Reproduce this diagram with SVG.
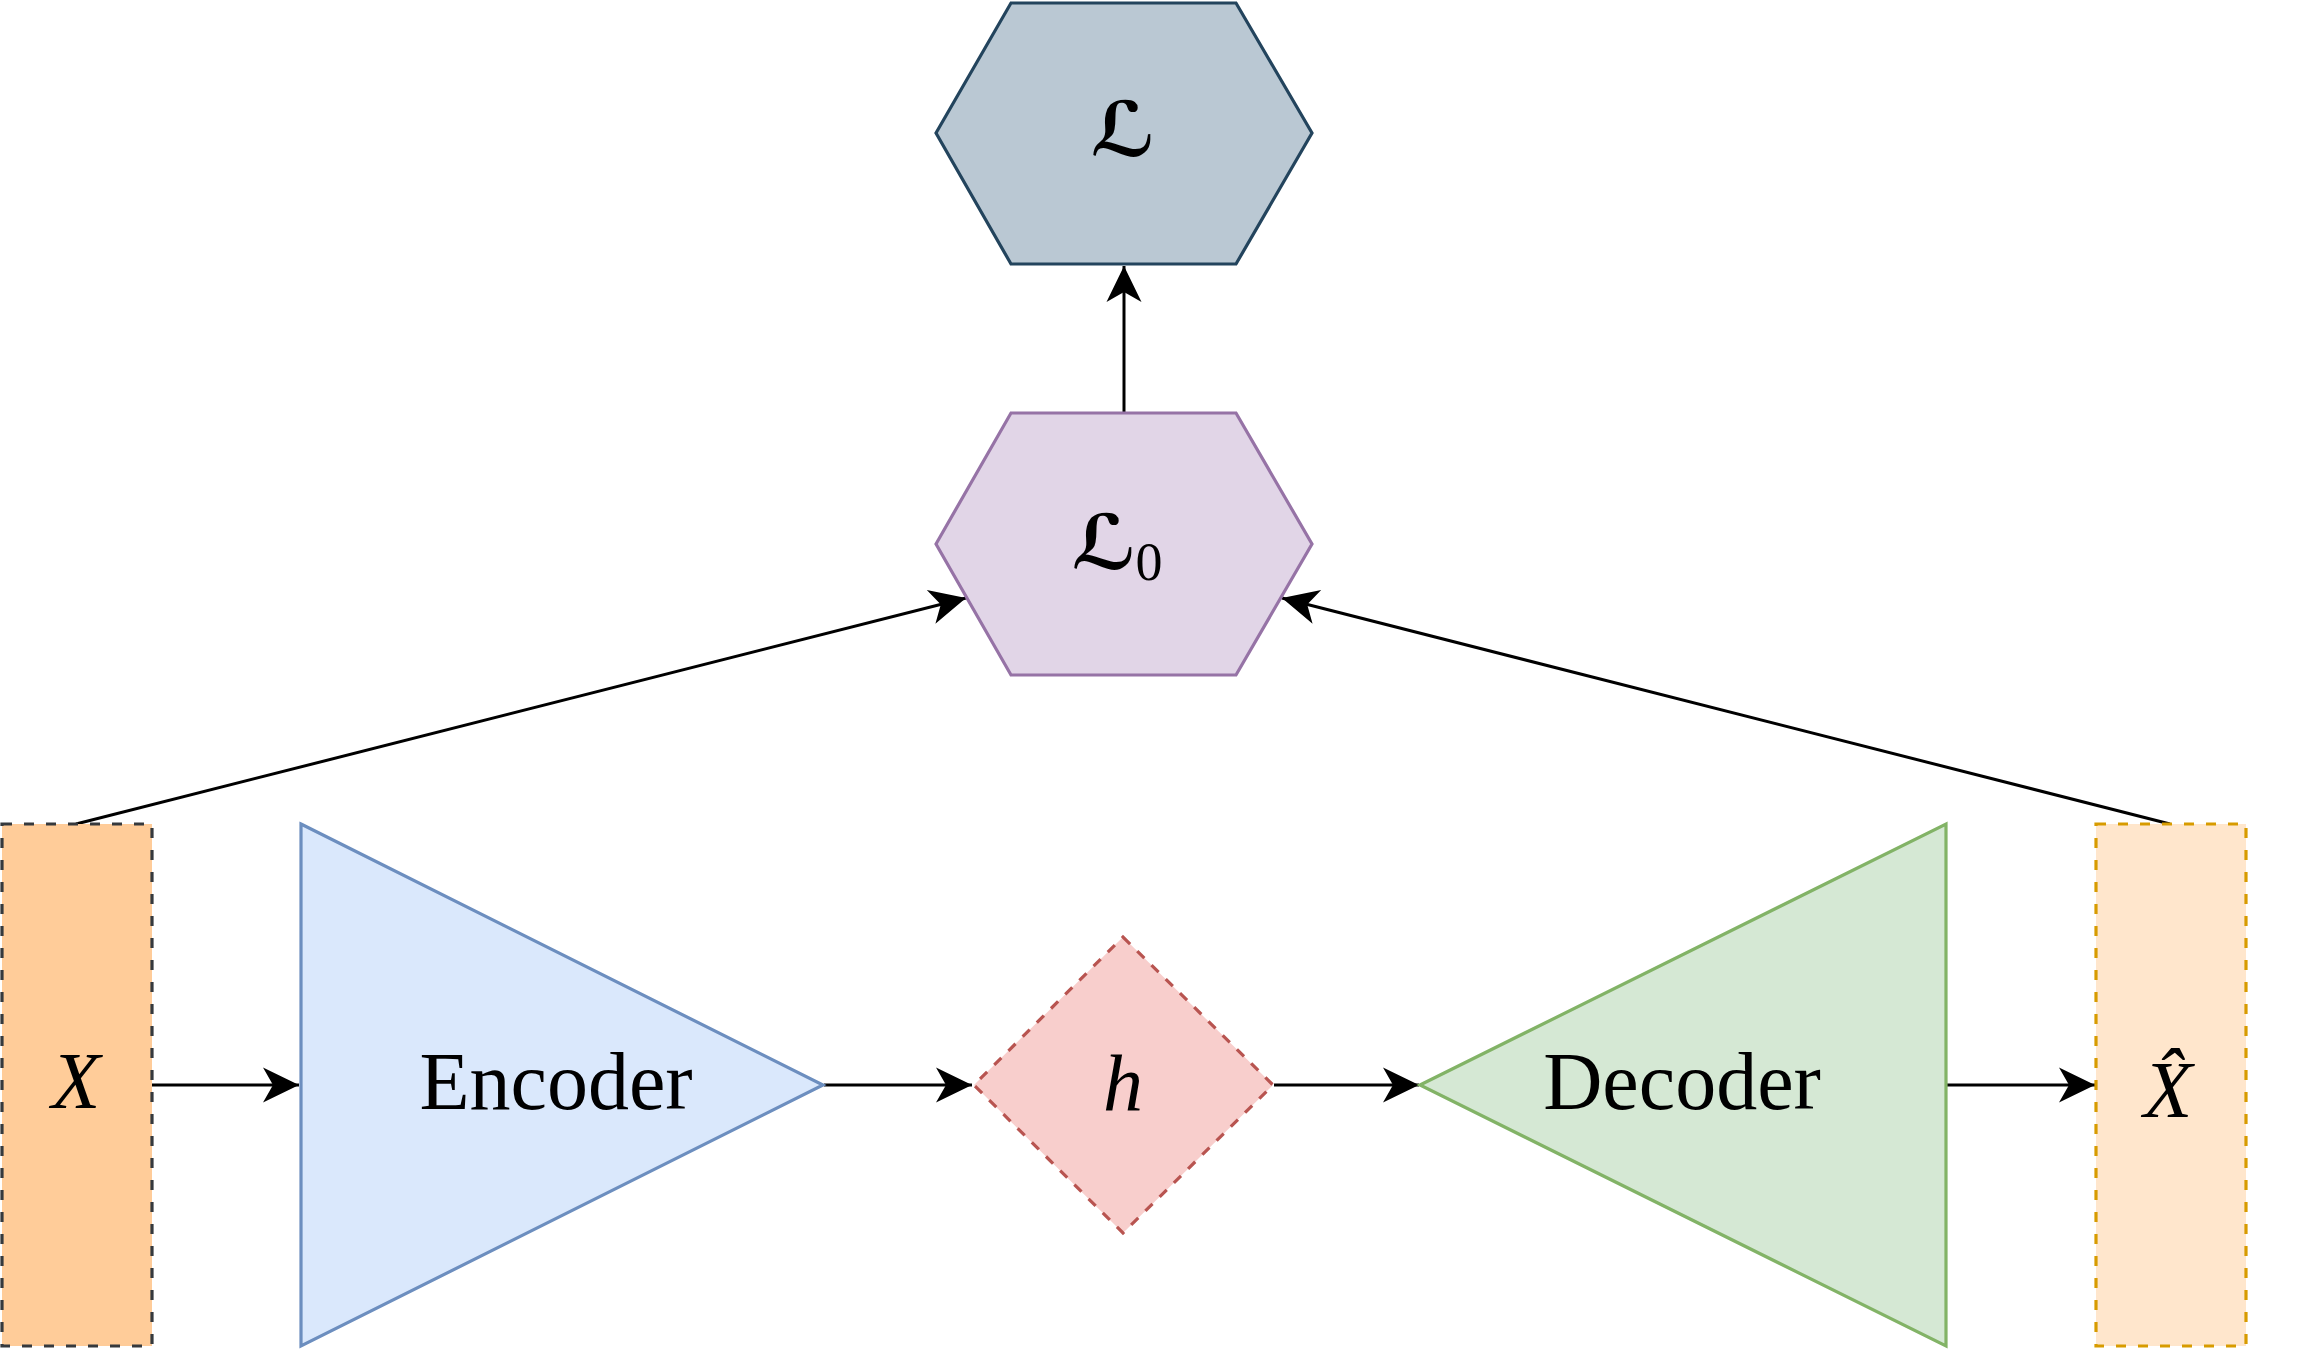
<svg xmlns="http://www.w3.org/2000/svg" width="2315" height="1350" viewBox="0 0 2315 1350">
<style>
.t{font-family:"Liberation Serif","DejaVu Serif",serif;fill:#000;}
.i{font-style:italic;}
.scr{font-family:"DejaVu Serif","DejaVu Sans",serif;fill:#000;font-weight:bold;font-style:italic;}
.c{fill:none;stroke:#000;stroke-width:3;}
.s{stroke-width:3.2;}
</style>
<defs>
<marker id="arr" markerUnits="userSpaceOnUse" markerWidth="44" markerHeight="44" viewBox="-40 -22 44 44" refX="0" refY="0" orient="auto">
<path d="M0,0 L-36,-17.5 L-26,0 L-36,17.5 Z" fill="#000"/>
</marker>
</defs>
<rect width="2315" height="1350" fill="#fff"/>
<g id="connectors">
<line class="c" x1="1124" y1="413" x2="1124" y2="266" marker-end="url(#arr)"/>
<line class="c" x1="76" y1="824" x2="966" y2="598" marker-end="url(#arr)"/>
<line class="c" x1="2170" y1="824" x2="1282" y2="598" marker-end="url(#arr)"/>
<line class="c" x1="152" y1="1085" x2="299" y2="1085" marker-end="url(#arr)"/>
<line class="c" x1="824" y1="1085" x2="972" y2="1085" marker-end="url(#arr)"/>
<line class="c" x1="1274" y1="1085" x2="1419" y2="1085" marker-end="url(#arr)"/>
<line class="c" x1="1947" y1="1085" x2="2095" y2="1085" marker-end="url(#arr)"/>
</g>
<g id="L">
<polygon class="s" points="936,133 1011,3 1236,3 1312,133 1236,264 1011,264" fill="#bac8d3" stroke="#23445d"/>
<text class="scr" x="1123" y="156" font-size="76" text-anchor="middle">ℒ</text>
</g>
<g id="L0">
<polygon class="s" points="936,544 1011,413 1236,413 1312,544 1236,675 1011,675" fill="#e1d5e7" stroke="#9673a6"/>
<text class="scr" x="1104" y="569" font-size="76" text-anchor="middle">ℒ</text>
<text class="t" x="1149" y="580" font-size="54" text-anchor="middle">0</text>
</g>
<g id="X">
<rect class="s" x="2" y="824" width="150" height="522" fill="#ffcc99" stroke="#36393d" stroke-dasharray="10 12"/>
<text class="t i" x="76" y="1108" font-size="80" text-anchor="middle">X</text>
</g>
<g id="encoder">
<polygon class="s" points="301,824 823,1085 301,1346" fill="#dae8fc" stroke="#6c8ebf"/>
<text class="t" x="556" y="1109" font-size="82" text-anchor="middle">Encoder</text>
</g>
<g id="h">
<polygon class="s" points="1123,937 1273,1085 1123,1233 974,1085" fill="#f8cecc" stroke="#b85450" stroke-dasharray="10 10"/>
<text class="t i" x="1123" y="1110" font-size="80" text-anchor="middle">h</text>
</g>
<g id="decoder">
<polygon class="s" points="1420,1085 1946,824 1946,1346" fill="#d5e8d4" stroke="#82b366"/>
<text class="t" x="1682" y="1109" font-size="82" text-anchor="middle">Decoder</text>
</g>
<g id="Xhat">
<rect class="s" x="2096" y="824" width="150" height="522" fill="#ffe6cc" stroke="#d79b00" stroke-dasharray="10 12"/>
<text class="t i" x="2168" y="1117" font-size="80" text-anchor="middle">X̂</text>
</g>
</svg>
